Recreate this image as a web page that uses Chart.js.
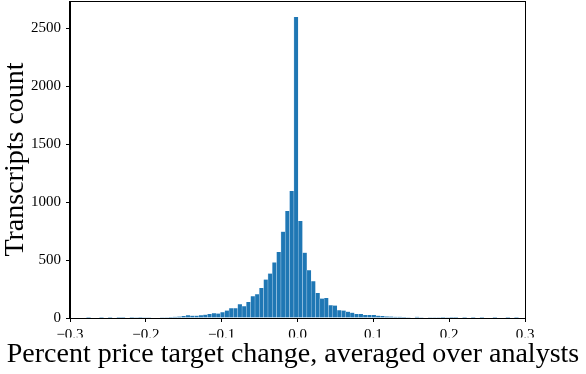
<!DOCTYPE html>
<html>
<head>
<meta charset="utf-8">
<script src="https://cdn.jsdelivr.net/npm/chart.js@4"></script>
<style>
html,body{margin:0;padding:0;background:#fff;}
#wrap{width:586px;height:374px;position:relative;}
</style>
</head>
<body>
<div id="wrap"><canvas id="c" width="586" height="374"></canvas></div>
<script>
const binCenters = [
 -0.2756,-0.2699,-0.2642,-0.2585,-0.2528,-0.2471,-0.2414,-0.2357,-0.2300,-0.2243,
 -0.2186,-0.2129,-0.2072,-0.2015,-0.1958,-0.1901,-0.1844,-0.1787,-0.1730,-0.1673,
 -0.1616,-0.1559,-0.1502,-0.1445,-0.1388,-0.1331,-0.1274,-0.1217,-0.1160,-0.1103,
 -0.1046,-0.0989,-0.0932,-0.0875,-0.0818,-0.0761,-0.0704,-0.0647,-0.0590,-0.0533,
 -0.0476,-0.0419,-0.0362,-0.0305,-0.0248,-0.0191,-0.0134,-0.0077,-0.0020,0.0037,
 0.0094,0.0151,0.0208,0.0265,0.0322,0.0379,0.0436,0.0493,0.0550,0.0607,
 0.0664,0.0721,0.0778,0.0835,0.0892,0.0949,0.1006,0.1063,0.1120,0.1177,
 0.1234,0.1291,0.1348,0.1405,0.1462,0.1519,0.1576,0.1633,0.1690,0.1747,
 0.1804,0.1861,0.1918,0.1975,0.2032,0.2089,0.2146,0.2203,0.2260,0.2317,
 0.2374,0.2431,0.2488,0.2545,0.2602,0.2659,0.2716,0.2773,0.2830,0.2887
];
const counts = [
 1,0,0,1,0,1,0,1,1,0,
 1,2,1,2,3,4,5,6,7,9,
 11,13,17,23,20,20,23,29,35,40,
 38,49,64,84,84,118,101,139,188,205,
 260,332,384,480,569,746,925,1098,2600,838,
 564,413,318,217,168,173,110,107,66,64,
 55,46,35,35,26,26,26,20,18,14,
 12,10,11,8,6,5,10,6,4,3,
 2,2,1,2,1,1,0,1,0,1,
 0,1,0,0,1,0,0,1,0,1
];
const xTicks = [-0.3,-0.2,-0.1,0.0,0.1,0.2,0.3];
const yTicks = [0,500,1000,1500,2000,2500];
const xTitle = 'Percent price target change, averaged over analysts';
const yTitle = 'Transcripts count';

const serif = '"Liberation Serif","DejaVu Serif",serif';

const frame = {
  id:'frame',
  afterDraw(chart){
    const a = chart.chartArea, ctx = chart.ctx;
    ctx.save();
    ctx.strokeStyle = '#000';
    ctx.lineWidth = 1;
    ctx.strokeRect(Math.round(a.left)-0.5, Math.round(a.top)+0.5, Math.round(a.right-a.left)+1, Math.round(a.bottom-a.top));
    ctx.restore();
  }
};

new Chart(document.getElementById('c'), {
  type:'bar',
  data:{
    datasets:[{
      data: binCenters.map((x,i)=>({x:x, y:counts[i]})),
      backgroundColor:'#1f77b4',
      borderColor:'rgba(170,205,235,0.7)',
      borderWidth:{left:0.6,right:0,top:0,bottom:0},
      borderSkipped:false,
      barPercentage:1,
      categoryPercentage:1,
      grouped:false
    }]
  },
  options:{
    responsive:false,
    animation:false,
    devicePixelRatio:1,
    layout:{padding:{top:1,right:0,left:0,bottom:0}},
    plugins:{
      legend:{display:false},
      tooltip:{enabled:false},
      title:{display:true, position:'bottom', align:'center', text:xTitle, color:'#000', font:{family:serif, size:28, weight:'normal'}, padding:{top:0,bottom:3}}
    },
    scales:{
      x:{
        type:'linear',
        offset:false,
        min:-0.3, max:0.3,
        afterFit(s){ s.height = 56 - 36.6; s.paddingLeft = 0; s.paddingRight = 0; },
        afterBuildTicks(s){ s.ticks = xTicks.map(v=>({value:v})); },
        grid:{display:true, drawOnChartArea:false, drawTicks:true, tickLength:4, tickColor:'#000', offset:false},
        border:{display:true, color:'#000', width:1},
        ticks:{
          color:'#000', padding:4, maxRotation:0,
          font:{family:serif, size:15},
          callback:(v)=> (v<0?'\u2212':'') + Math.abs(v).toFixed(1)
        }
      },
      y:{
        min:0, max:2738,
        afterFit(s){ s.width = 70; s.paddingTop = 0; s.paddingBottom = 0; },
        afterBuildTicks(s){ s.ticks = yTicks.map(v=>({value:v})); },
        grid:{display:true, drawOnChartArea:false, drawTicks:true, tickLength:4, tickColor:'#000'},
        border:{display:true, color:'#000', width:1},
        ticks:{color:'#000', padding:5, font:{family:serif, size:15}, callback:(v)=>String(v)},
        title:{display:true, text:yTitle, color:'#000', font:{family:serif, size:28}, padding:{top:-1,bottom:0}}
      },
      yRight:{
        position:'right',
        display:true,
        min:0, max:1,
        afterFit(s){ s.width = 61; s.paddingTop = 0; s.paddingBottom = 0; },
        grid:{display:false, drawTicks:false},
        border:{display:false},
        ticks:{display:false}
      }
    }
  },
  plugins:[frame]
});
</script>
</body>
</html>
